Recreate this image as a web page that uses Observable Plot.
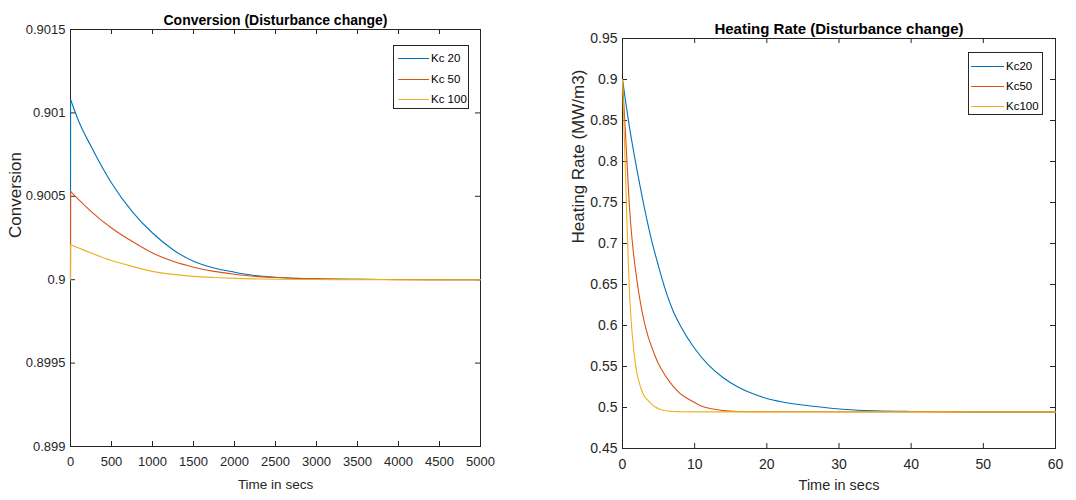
<!DOCTYPE html>
<html><head><meta charset="utf-8">
<script src="https://cdn.jsdelivr.net/npm/d3@7"></script>
<script src="https://cdn.jsdelivr.net/npm/@observablehq/plot@0.6"></script>
<style>
body{margin:0;background:#fff;font-family:"Liberation Sans",Arial,sans-serif;}
#wrap{position:relative;width:1076px;height:500px;overflow:hidden;background:#fff;}
.panel{position:absolute;top:0;}
.legend{position:absolute;border:1px solid #262626;background:#fff;color:#000;font-size:11.5px;box-sizing:border-box;}
.legend .row{position:absolute;height:14px;line-height:14px;white-space:nowrap;}
.legend .sw{position:absolute;top:7px;height:0;border-top:1px solid;}
</style></head><body><div id="wrap"></div>
<script>
// ---------- Data ----------
const colors = ["#0072BD", "#D95319", "#EDB120"];

// Left panel: Conversion
const convTitle = "Conversion (Disturbance change)";
const convXLabel = "Time in secs";
const convYLabel = "Conversion";
const convNames = ["Kc 20", "Kc 50", "Kc 100"];
const convXTicks = [0, 500, 1000, 1500, 2000, 2500, 3000, 3500, 4000, 4500, 5000];
const convXTickLabels = ["0", "500", "1000", "1500", "2000", "2500", "3000", "3500", "4000", "4500", "5000"];
const convYTicks = [0.899, 0.8995, 0.9, 0.9005, 0.901, 0.9015];
const convYTickLabels = ["0.899", "0.8995", "0.9", "0.9005", "0.901", "0.9015"];
const convTime = [0, 1, 100, 250, 500, 750, 1000, 1250, 1500, 1750, 2000, 2250, 2500, 3000, 3500, 4000, 5000];
const convKc20 = [0.9, 0.90108, 0.90095, 0.90080, 0.90058, 0.90041, 0.90028, 0.90018, 0.90011, 0.90007, 0.900045, 0.900025, 0.900015, 0.900005, 0.900002, 0.900001, 0.9];
const convKc50 = [0.9, 0.90053, 0.90048, 0.90041, 0.90031, 0.90023, 0.90016, 0.90011, 0.900075, 0.90005, 0.900033, 0.90002, 0.900013, 0.900005, 0.900002, 0.9000005, 0.9];
const convKc100 = [0.9, 0.90021, 0.90019, 0.90016, 0.900115, 0.90008, 0.90005, 0.900032, 0.90002, 0.900013, 0.900008, 0.900005, 0.900003, 0.900001, 0.9000005, 0.9, 0.9];

// Right panel: Heating rate
const heatTitle = "Heating Rate (Disturbance change)";
const heatXLabel = "Time in secs";
const heatYLabel = "Heating Rate (MW/m3)";
const heatNames = ["Kc20", "Kc50", "Kc100"];
const heatXTicks = [0, 10, 20, 30, 40, 50, 60];
const heatXTickLabels = ["0", "10", "20", "30", "40", "50", "60"];
const heatYTicks = [0.45, 0.5, 0.55, 0.6, 0.65, 0.7, 0.75, 0.8, 0.85, 0.9, 0.95];
const heatYTickLabels = ["0.45", "0.5", "0.55", "0.6", "0.65", "0.7", "0.75", "0.8", "0.85", "0.9", "0.95"];
const heatTime20 = [0, 1, 2, 3, 4, 5, 6, 7, 8, 10, 12, 14, 16, 18, 20, 22, 25, 28, 31, 35, 40, 45, 50, 60];
const heatKc20 = [0.9, 0.84, 0.79, 0.745, 0.705, 0.672, 0.642, 0.618, 0.600, 0.572, 0.551, 0.536, 0.525, 0.517, 0.511, 0.507, 0.503, 0.500, 0.4976, 0.496, 0.4952, 0.4949, 0.4947, 0.4947];
const heatTime50 = [0, 0.5, 1, 1.5, 2, 2.5, 3, 3.5, 4, 5, 6, 7, 8, 9, 10, 11, 12, 13, 14, 16, 20, 60];
const heatKc50 = [0.9, 0.82, 0.74, 0.69, 0.655, 0.627, 0.605, 0.588, 0.575, 0.553, 0.538, 0.526, 0.517, 0.511, 0.506, 0.5015, 0.499, 0.4975, 0.4962, 0.4952, 0.4948, 0.4947];
const heatTime100 = [0, 0.25, 0.5, 0.75, 1, 1.25, 1.5, 1.75, 2, 2.5, 3, 3.5, 4, 4.5, 5, 5.5, 6, 7, 8, 10, 60];
const heatKc100 = [0.9, 0.83, 0.76, 0.69, 0.635, 0.6, 0.575, 0.556, 0.542, 0.525, 0.514, 0.509, 0.5045, 0.501, 0.4985, 0.497, 0.496, 0.4952, 0.4949, 0.4947, 0.4947];

// ---------- Helpers ----------
const FONT = "'Liberation Sans', Arial, Helvetica, sans-serif";
const AX = "#262626";
function rows(times, vals, name) { return times.map((t, i) => ({t, v: vals[i], s: name})); }

function panel(cfg) {
  const PW = cfg.width - cfg.ml - cfg.mr;
  const PH = cfg.height - cfg.mt - cfg.mb;
  const lines = cfg.series.flatMap((s, i) => {
    const r = rows(s.t, s.v, s.name);
    if (cfg.jump) {
      return [
        Plot.line(r.slice(0, 2), {x: "t", y: "v", stroke: colors[i], strokeWidth: 1.1}),
        Plot.line(r.slice(1), {x: "t", y: "v", stroke: colors[i], strokeWidth: 1.1, curve: "monotone-x"})
      ];
    }
    return [Plot.line(r, {x: "t", y: "v", stroke: colors[i], strokeWidth: 1.1, curve: "monotone-x"})];
  });
  return Plot.plot({
    width: cfg.width, height: cfg.height,
    marginLeft: cfg.ml, marginRight: cfg.mr, marginTop: cfg.mt, marginBottom: cfg.mb,
    style: {fontFamily: FONT, fontSize: cfg.tickFont + "px", color: AX, background: "transparent", overflow: "visible"},
    x: {domain: cfg.xDomain},
    y: {domain: cfg.yDomain},
    marks: [
      Plot.frame({stroke: AX, strokeWidth: 1}),
      Plot.ruleY(cfg.yTicks, {y: d => d, stroke: AX, insetRight: PW - 5}),
      Plot.ruleY(cfg.yTicks, {y: d => d, stroke: AX, insetLeft: PW - 5}),
      Plot.ruleX(cfg.xTicks, {x: d => d, stroke: AX, insetTop: PH - 5}),
      Plot.ruleX(cfg.xTicks, {x: d => d, stroke: AX, insetBottom: PH - 5}),
      Plot.axisY(cfg.yTicks, {tickSize: 0, tickPadding: 5, label: null, fill: AX,
        tickFormat: d => cfg.yTickLabels[cfg.yTicks.indexOf(d)]}),
      Plot.axisX(cfg.xTicks, {tickSize: 0, tickPadding: cfg.xPad, label: null, fill: AX,
        tickFormat: d => cfg.xTickLabels[cfg.xTicks.indexOf(d)]}),
      ...lines,
      Plot.text([cfg.title], {text: d => d, frameAnchor: "top", dy: cfg.titleDy, fontWeight: "bold", fontSize: cfg.titleFont, fill: "#000"}),
      Plot.text([cfg.xLabel], {text: d => d, frameAnchor: "bottom", dy: cfg.xLabelDy, fontSize: cfg.xLabelFont, fill: AX}),
      Plot.text([cfg.yLabel], {text: d => d, frameAnchor: "left", rotate: -90, dx: cfg.yLabelDx, fontSize: cfg.yLabelFont, fill: AX})
    ]
  });
}

function legend(names, box) {
  const div = document.createElement("div");
  div.className = "legend";
  Object.assign(div.style, {left: box.x + "px", top: box.y + "px", width: box.w + "px", height: box.h + "px"});
  names.forEach((n, i) => {
    const sw = document.createElement("div");
    sw.className = "sw";
    Object.assign(sw.style, {left: box.lineX + "px", width: box.lineW + "px", top: (box.rowY[i]) + "px", borderTopColor: colors[i]});
    const tx = document.createElement("div");
    tx.className = "row";
    tx.textContent = n;
    Object.assign(tx.style, {left: box.textX + "px", top: (box.rowY[i] - 7) + "px"});
    div.appendChild(sw); div.appendChild(tx);
  });
  return div;
}

const wrap = document.getElementById("wrap");

const left = panel({
  width: 540, height: 500, ml: 70, mr: 60, mt: 29, mb: 54, jump: true,
  xDomain: [0, 5000], yDomain: [0.899, 0.9015],
  xTicks: convXTicks, xTickLabels: convXTickLabels, yTicks: convYTicks, yTickLabels: convYTickLabels,
  tickFont: 13, xPad: 10, title: convTitle, titleDy: -14, titleFont: 14,
  xLabel: convXLabel, xLabelDy: 42, xLabelFont: 13.5,
  yLabel: convYLabel, yLabelDx: -55, yLabelFont: 17,
  series: [
    {name: convNames[0], t: convTime, v: convKc20},
    {name: convNames[1], t: convTime, v: convKc50},
    {name: convNames[2], t: convTime, v: convKc100}
  ]
});
left.classList.add("panel"); left.style.left = "0px";
wrap.appendChild(left);

const right = panel({
  width: 536, height: 500, ml: 82, mr: 21, mt: 38, mb: 52, jump: false,
  xDomain: [0, 60], yDomain: [0.45, 0.95],
  xTicks: heatXTicks, xTickLabels: heatXTickLabels, yTicks: heatYTicks, yTickLabels: heatYTickLabels,
  tickFont: 14, xPad: 11, title: heatTitle, titleDy: -15, titleFont: 15,
  xLabel: heatXLabel, xLabelDy: 41, xLabelFont: 14.5,
  yLabel: heatYLabel, yLabelDx: -44, yLabelFont: 17,
  series: [
    {name: heatNames[0], t: heatTime20, v: heatKc20},
    {name: heatNames[1], t: heatTime50, v: heatKc50},
    {name: heatNames[2], t: heatTime100, v: heatKc100}
  ]
});
right.classList.add("panel"); right.style.left = "540px";
wrap.appendChild(right);

wrap.appendChild(legend(convNames, {x: 393, y: 45, w: 76, h: 64, lineX: 4, lineW: 31, textX: 37, rowY: [12, 33, 53]}));
wrap.appendChild(legend(heatNames, {x: 968, y: 52, w: 75, h: 63, lineX: 2, lineW: 33, textX: 37, rowY: [13, 33, 53]}));
</script></body></html>
